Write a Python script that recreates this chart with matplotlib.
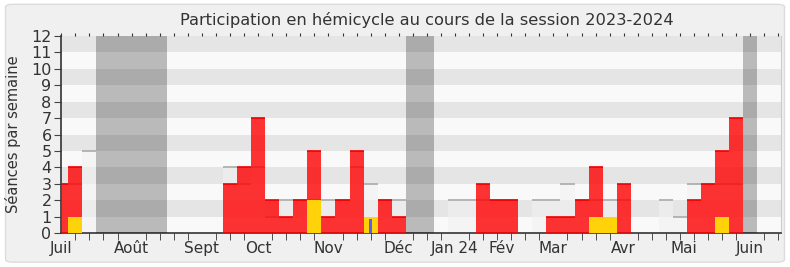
import numpy as np
import matplotlib
matplotlib.use("Agg")
import matplotlib.pyplot as plt
from matplotlib.patches import FancyBboxPatch

# semaines de la session (index 0 = debut juillet)
semaines = np.arange(51)

# seances du depute par semaine (rouge)
presence = [3, 4, 0, 0, 0, 0, 0, 0, 0, 0, 0, 0, 3, 4, 7, 2, 1, 2, 5, 1,
            2, 5, 0, 2, 1, 0, 0, 0, 0, 0, 3, 2, 2, 0, 0, 1, 1, 2, 4, 0,
            3, 0, 0, 0, 0, 2, 3, 5, 7, 0, 0]
# mediane des deputes (barres claires)
mediane = [3, 3, 5, 0, 0, 0, 0, 0, 0, 0, 0, 0, 4, 3, 4, 1, 2, 2, 2, 2,
           2, 4, 3, 2, 2, 0, 0, 0, 2, 2, 2, 2, 2, 0, 2, 2, 3, 2, 2, 2,
           2, 0, 0, 2, 1, 3, 3, 3, 3, 0, 0]
# interventions (jaune) et questions (bleu)
interventions = {1: 1, 18: 2, 22: 1, 38: 1, 39: 1, 47: 1}
questions = {22: 0.85}

# vacances parlementaires (debut, fin en semaines)
vacances = [(2.5, 7.5), (24.5, 26.5), (48.5, 49.5)]

mois_pos = [0, 5, 10, 14, 19, 24, 28, 31.3, 35, 40, 44.3, 49]
mois_lab = ["Juil", "Août", "Sept", "Oct", "Nov", "Déc", "Jan 24", "Fév",
            "Mar", "Avr", "Mai", "Juin"]

txt = "#333333"
plt.rcParams["font.family"] = ["DejaVu Sans"]

fig = plt.figure(figsize=(7.9, 2.67), dpi=100, facecolor="white")
fond = FancyBboxPatch((0.007, 0.018), 0.986, 0.966,
                      boxstyle="round,pad=0,rounding_size=0.01",
                      transform=fig.transFigure, facecolor="#f0f0f0",
                      edgecolor="#dcdcdc", linewidth=1, zorder=-10)
fig.patches.append(fond)

ax = fig.add_axes([0.0776, 0.1273, 0.9104, 0.7379])
ax.set_facecolor("#f9f9f9")

# bandes horizontales
for k in range(12):
    c = "#e5e5e5" if k % 2 == 1 else "#f9f9f9"
    ax.axhspan(k, k + 1, color=c, lw=0, zorder=0)

# barres claires (mediane)
ax.bar(semaines, mediane, width=1.0, color="#f2f2f2", alpha=0.6, lw=0, zorder=1)
m = np.array(mediane)
ax.hlines(m[m > 0], semaines[m > 0] - 0.5, semaines[m > 0] + 0.5,
          color="#aaaaaa", lw=1.2, zorder=2)

# presence du depute
p = np.array(presence)
ax.bar(semaines, presence, width=1.0, color="#ff0000", alpha=0.8, lw=0, zorder=3)
ax.hlines(p[p > 0], semaines[p > 0] - 0.5, semaines[p > 0] + 0.5,
          color="#ee0000", lw=1.2, zorder=4)

ax.bar(list(interventions.keys()), list(interventions.values()), width=1.0,
       color="#ffd20a", lw=0, zorder=5)
ax.bar(list(questions.keys()), list(questions.values()), width=0.26,
       color="#5b5bff", lw=0, zorder=6)

for a, b in vacances:
    ax.axvspan(a, b, color="black", alpha=0.25, lw=0, zorder=7)

ax.set_xlim(0, 51.15)
ax.set_ylim(0, 12)
ax.set_yticks(range(13))
ax.set_xticks(mois_pos)
ax.set_xticklabels(mois_lab)
ax.set_xticks(np.arange(0, 52), minor=True)
ax.tick_params(axis="x", which="major", length=0, pad=6, labelsize=11,
               labelcolor=txt)
ax.tick_params(axis="x", which="minor", length=5, color="#333333",
               direction="out")
ax.tick_params(axis="y", length=5, color="#444444", labelsize=11.5,
               labelcolor=txt, pad=2)

ax.spines["top"].set_visible(False)
ax.spines["right"].set_color("#cccccc")
ax.spines["left"].set_color("#333333")
ax.spines["bottom"].set_color("#333333")
ax.spines["left"].set_linewidth(1.2)
ax.spines["bottom"].set_linewidth(1.2)

# petits reperes hebdomadaires en haut
sec = ax.secondary_xaxis("top")
sec.set_xticks(np.arange(0, 52))
sec.set_xticklabels([])
sec.tick_params(length=2, color="#333333", direction="out")
sec.spines["top"].set_visible(False)

ax.set_ylabel("Séances par semaine", fontsize=10.5, color=txt, labelpad=7)
fig.text(0.54, 0.905, "Participation en hémicycle au cours de la session 2023-2024",
         fontsize=11.7, color=txt, ha="center", va="baseline")

fig.savefig("out.png", dpi=100, facecolor=fig.get_facecolor())
